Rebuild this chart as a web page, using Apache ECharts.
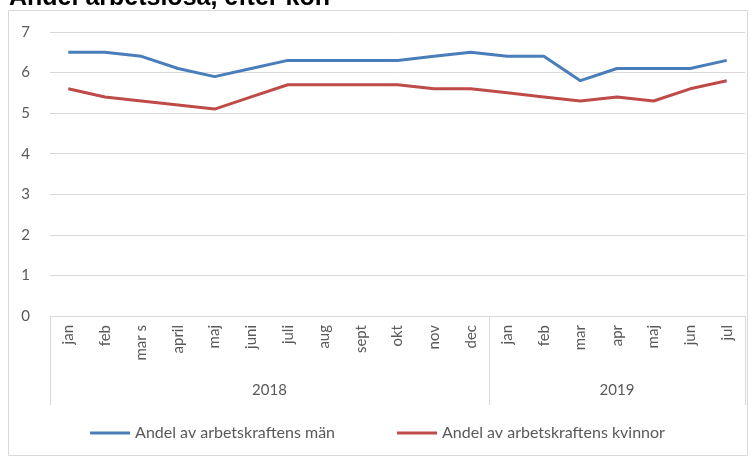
<!DOCTYPE html>
<html>
<head>
<meta charset="utf-8">
<script src="https://cdn.jsdelivr.net/npm/echarts@6/dist/echarts.min.js"></script>
<style>
  html, body { margin: 0; padding: 0; background: #fff; }
  #main { width: 755px; height: 457px; }
</style>
</head>
<body>
<div id="main"></div>
<script>
// månader, två år
var months = ['jan', 'feb', 'mar s', 'april', 'maj', 'juni', 'juli', 'aug', 'sept', 'okt', 'nov', 'dec',
              'jan', 'feb', 'mar', 'apr', 'maj', 'jun', 'jul'];
var years = ['2018', '2019'];
var monthsPerYear = [12, 7];

var men = [6.5, 6.5, 6.4, 6.1, 5.9, 6.1, 6.3, 6.3, 6.3, 6.3, 6.4, 6.5,
           6.4, 6.4, 5.8, 6.1, 6.1, 6.1, 6.3];
var women = [5.6, 5.4, 5.3, 5.2, 5.1, 5.4, 5.7, 5.7, 5.7, 5.7, 5.6, 5.6,
             5.5, 5.4, 5.3, 5.4, 5.3, 5.6, 5.8];

var yTicks = [0, 1, 2, 3, 4, 5, 6, 7];

// gränser och mitt för varje år (i kategori-index)
var bounds = [-0.5];
var centers = [];
var pos = -0.5;
for (var i = 0; i < monthsPerYear.length; i++) {
    centers.push(pos + monthsPerYear[i] / 2);
    pos += monthsPerYear[i];
    bounds.push(pos);
}

var font = 'Lato, "Open Sans", sans-serif';
var grey = '#595959';

var myChart = echarts.init(document.getElementById('main'));

var option = {
    animation: false,
    title: {
        text: 'Andel arbetslösa, efter kön',
        left: 4,
        top: -19,
        textStyle: { fontFamily: 'Liberation Sans, Arial', fontWeight: 'bold', fontSize: 25, color: '#000' }
    },
    graphic: [{
        type: 'rect',
        shape: { x: 8.5, y: 10.5, width: 739, height: 445 },
        style: { fill: 'none', stroke: '#d9d9d9', lineWidth: 1 },
        z: -1
    }],
    grid: { left: 50, right: 10, top: 32, bottom: 141 },
    legend: {
        bottom: 11,
        left: 'center',
        itemWidth: 40,
        itemHeight: 3,
        itemGap: 62,
        icon: 'rect',
        textStyle: { fontFamily: font, fontSize: 16, color: grey },
        data: ['Andel av arbetskraftens män', 'Andel av arbetskraftens kvinnor']
    },
    xAxis: [{
        type: 'category',
        data: months,
        boundaryGap: true,
        axisLine: { lineStyle: { color: '#d9d9d9' } },
        axisTick: { show: false },
        axisLabel: { rotate: 90, margin: 9, fontFamily: font, fontSize: 15, color: grey, interval: 0 }
    }, {
        type: 'value',
        position: 'bottom',
        min: -0.5,
        max: months.length - 0.5,
        axisLine: { show: false },
        splitLine: { show: false },
        axisTick: {
            show: true,
            customValues: bounds,
            length: 89,
            lineStyle: { color: '#d9d9d9' }
        },
        axisLabel: {
            customValues: centers,
            margin: 67,
            fontFamily: font,
            fontSize: 15,
            color: grey,
            formatter: function (v) {
                return years[centers.indexOf(v)];
            }
        }
    }],
    yAxis: {
        type: 'value',
        min: yTicks[0],
        max: yTicks[yTicks.length - 1],
        interval: 1,
        axisLine: { show: false },
        axisTick: { show: false },
        splitLine: { lineStyle: { color: '#d9d9d9' } },
        axisLabel: { margin: 20, fontFamily: font, fontSize: 15, color: grey }
    },
    series: [{
        name: 'Andel av arbetskraftens män',
        type: 'line',
        data: men,
        symbol: 'none',
        lineStyle: { width: 3, color: '#4a7ebb' },
        itemStyle: { color: '#4a7ebb' }
    }, {
        name: 'Andel av arbetskraftens kvinnor',
        type: 'line',
        data: women,
        symbol: 'none',
        lineStyle: { width: 3, color: '#be4b48' },
        itemStyle: { color: '#be4b48' }
    }]
};

myChart.setOption(option);
</script>
</body>
</html>
